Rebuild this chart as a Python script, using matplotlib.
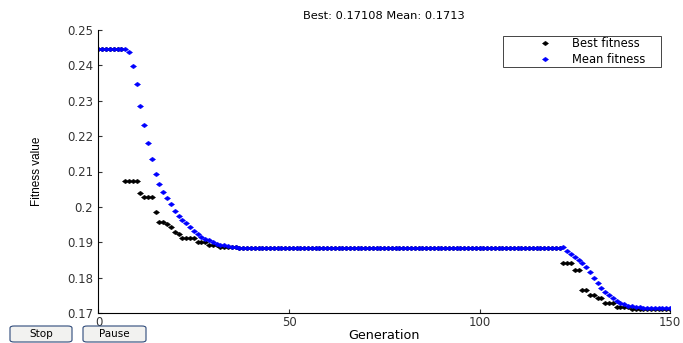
import numpy as np
import matplotlib
matplotlib.use("Agg")
import matplotlib.pyplot as plt
from matplotlib.patches import FancyBboxPatch, Rectangle

plt.rcParams["font.family"] = ["DejaVu Sans"]

# GA progress
generations = list(range(151))

mean_fitness = ([0.2445] * 8 +
                [0.2437, 0.2399, 0.2347, 0.2284, 0.2232, 0.2181, 0.2136, 0.2094,
                 0.2064, 0.2042, 0.2025, 0.2008, 0.1989, 0.1975, 0.1963, 0.1954,
                 0.1944, 0.1932, 0.1923, 0.1916, 0.1910, 0.1905, 0.1900, 0.1896,
                 0.1893, 0.1891, 0.1889, 0.1887, 0.1886, 0.1885] +
                [0.1884] * 84 +
                [0.1886, 0.1875, 0.1868, 0.1858, 0.1850, 0.1841, 0.1829, 0.1815,
                 0.1800, 0.1785, 0.1771, 0.1760, 0.1750, 0.1742, 0.1735, 0.1729,
                 0.1724, 0.1721, 0.1719, 0.1717, 0.1716, 0.1715, 0.1715, 0.1714,
                 0.1714, 0.1713, 0.1713, 0.1713, 0.1713])

best_fitness = ([0.2445] * 7 + [0.2074] * 4 + [0.2039] + [0.2027] * 3 + [0.1985] +
                [0.1958] * 2 + [0.1952, 0.1944, 0.1930, 0.1923] +
                [0.1911] * 4 + [0.1901] * 3 + [0.1892] * 3 + [0.1887] * 5 +
                [0.1883] * 85 +
                [0.1841] * 3 + [0.1822] * 2 + [0.1766] * 2 + [0.1751] * 2 +
                [0.1742] * 2 + [0.1728] * 3 + [0.1717] * 4 + [0.1712] * 10 +
                [0.17108])

W, H = 683.0, 343.0
fig = plt.figure(figsize=(6.83, 3.43), dpi=100)
ax = fig.add_axes([0.1442, 0.0875, 0.8368, 0.825])

# squat diamond, like the stretched matlab markers
diamond = [(-1, 0), (0, 0.75), (1, 0), (0, -0.75), (-1, 0)]
ax.plot(generations, best_fitness, linestyle="none", marker=diamond, markersize=4.4,
        color="black", markeredgewidth=0.3, label="Best fitness")
ax.plot(generations, mean_fitness, linestyle="none", marker=diamond, markersize=4.4,
        color="blue", markeredgewidth=0.3, label="Mean fitness")

ax.set_xlim(0, 150)
ax.set_ylim(0.17, 0.25)
ax.set_xticks([0, 50, 100, 150])
ax.set_yticks([0.17, 0.18, 0.19, 0.2, 0.21, 0.22, 0.23, 0.24, 0.25])
ax.set_yticklabels(["0.17", "0.18", "0.19", "0.2", "0.21", "0.22", "0.23", "0.24", "0.25"])
ax.tick_params(direction="in", labelsize=8.5, length=3, pad=4, colors="#333333")
ax.tick_params(axis="x", pad=2)
for s in ["top", "right"]:
    ax.spines[s].set_visible(False)

ax.set_xlabel("Generation", fontsize=9.2, labelpad=0)
ax.set_ylabel("Fitness value", fontsize=8.5, family=["Liberation Sans Narrow", "Liberation Sans"])
ax.yaxis.set_label_coords(-0.097, 0.5)
ax.set_title("Best: 0.17108 Mean: 0.1713", fontsize=8.2, pad=8)

# legend box drawn separately so the padding matches
ax.add_patch(Rectangle((503 / W, 1 - 67 / H), 158 / W, 31 / H,
                       transform=fig.transFigure, facecolor="white", clip_on=False,
                       edgecolor="#444444", linewidth=0.7, zorder=4))
leg = ax.legend(loc="center left", bbox_to_anchor=(528 / W, 1 - 51.5 / H),
                bbox_transform=fig.transFigure, fontsize=8.3, frameon=False,
                handlelength=2.0, handletextpad=1.3, borderpad=0,
                labelspacing=0.2)
leg.set_zorder(6)

# Stop / Pause buttons
for label, x0, x1 in [("Stop", 10, 72), ("Pause", 83, 146)]:
    btn = FancyBboxPatch((x0 / W, 1 - 342 / H), (x1 - x0) / W, 16 / H,
                         boxstyle="round,pad=0,rounding_size=0.006",
                         transform=fig.transFigure, facecolor="#F2F2F0",
                         edgecolor="#2E4A7A", linewidth=0.8)
    fig.patches.append(btn)
    fig.text((x0 + x1) / 2 / W, 1 - 334 / H, label, ha="center", va="center",
             fontsize=7.5)

plt.savefig("out.png", dpi=100)
